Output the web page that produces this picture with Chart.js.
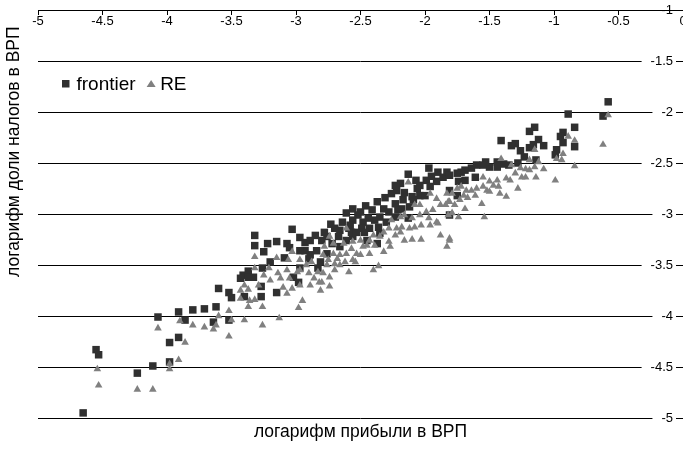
<!DOCTYPE html>
<html>
<head>
<meta charset="utf-8">
<title>frontier vs RE</title>
<script src="https://cdn.jsdelivr.net/npm/chart.js@4.4.0/dist/chart.umd.min.js"></script>
<style>
  body { margin: 0; background: #fff; }
  canvas { display: block; }
</style>
</head>
<body>
<canvas id="scatter" width="683" height="450"></canvas>
<script>
const FONT = "'Liberation Sans', Arial, sans-serif";

const xTitle = 'логарифм прибыли в ВРП';
const yTitle = 'логарифм доли налогов в ВРП';
const seriesNames = ['frontier', 'RE'];

const xTicks = [-5, -4.5, -4, -3.5, -3, -2.5, -2, -1.5, -1, -0.5, 0];
const yTicks = [-5, -4.5, -4, -3.5, -3, -2.5, -2, -1.5, -1];

// [log profit share, log tax share]
const frontier = [
  [-4.55,-4.33],[-4.53,-4.38],[-4.65,-4.95],[-4.23,-4.56],[-4.11,-4.49],[-3.98,-4.26],[-3.91,-4.21],[-3.98,-4.45],
  [-4.07,-4.01],[-3.91,-3.96],[-3.86,-4.04],
  [-3.32,-3.21],[-3.32,-3.31],[-3.25,-3.37],[-3.22,-3.29],[-3.15,-3.27],[-3.03,-3.15],[-3.07,-3.29],[-3.05,-3.33],
  [-2.97,-3.23],[-2.93,-3.28],[-2.93,-3.36],[-2.89,-3.40],[-2.84,-3.36],[-2.90,-3.44],[-2.83,-3.53],[-3.37,-3.56],
  [-3.41,-3.60],[-3.43,-3.63],[-3.33,-3.62],[-3.37,-3.62],[-3.60,-3.73],[-3.52,-3.77],[-3.50,-3.82],[-3.27,-3.71],
  [-3.27,-3.81],[-3.15,-3.77],[-3.40,-3.81],[-3.80,-3.94],[-3.71,-3.93],[-3.62,-3.91],[-3.64,-4.06],[-3.52,-4.04],
  [-2.97,-3.53],[-3.02,-3.62],[-2.98,-3.67],
  [-2.13,-2.61],[-1.97,-2.55],[-2.19,-2.70],[-2.07,-2.67],[-2.06,-2.75],[-1.99,-2.67],[-1.96,-2.73],[-1.91,-2.68],
  [-1.86,-2.64],[-2.26,-2.80],[-2.17,-2.86],[-2.23,-2.90],[-2.10,-2.83],[-2.04,-2.82],[-2.18,-2.95],[-2.12,-2.93],
  [-2.32,-2.95],[-2.28,-2.98],[-2.35,-3.03],[-2.39,-3.06],[-2.44,-3.04],[-2.48,-3.08],[-2.56,-2.95],[-2.61,-2.99],
  [-2.52,-3.01],[-2.56,-3.06],[-2.49,-3.14],[-2.43,-3.14],[-2.36,-3.13],[-2.30,-3.08],[-2.23,-3.03],[-2.73,-3.10],
  [-2.66,-3.16],[-2.59,-3.14],[-2.67,-3.22],[-2.76,-3.22],[-2.80,-3.26],[-2.72,-3.29],[-2.61,-3.26],[-2.56,-3.22],
  [-2.57,-3.18],[-2.53,-3.18],[-2.66,-3.32],[-2.76,-3.39],[-2.81,-3.47],[-2.37,-3.29],[-2.45,-3.26],[-2.35,-3.19],
  [-2.13,-3.04],
  [-2.78,-3.18],[-2.70,-3.14],[-2.64,-3.08],[-2.50,-2.98],[-2.46,-2.92],[-2.41,-2.96],[-2.37,-2.88],[-2.31,-2.84],
  [-2.22,-2.77],[-2.16,-2.79],[-2.04,-2.72],[-1.95,-2.63],[-1.90,-2.59],[-1.83,-2.59],[-2.23,-2.72],[-2.89,-3.26],
  [-2.85,-3.21],[-2.97,-3.36],[-3.09,-3.43],[-3.20,-3.47],[-3.26,-3.53],[-2.58,-3.11],[-2.47,-3.18],[-2.21,-2.96],
  [-2.09,-2.86],[-2.00,-2.82],
  [-0.58,-1.90],[-0.62,-2.04],[-0.89,-2.02],[-0.84,-2.15],[-0.93,-2.20],[-0.95,-2.24],[-0.93,-2.30],[-0.84,-2.34],
  [-1.15,-2.15],[-1.19,-2.19],[-1.12,-2.27],[-1.16,-2.32],[-1.19,-2.35],[-1.08,-2.33],[-1.41,-2.28],[-1.30,-2.31],
  [-1.33,-2.33],[-1.26,-2.38],[-1.23,-2.44],[-1.14,-2.47],[-0.98,-2.37],[-0.99,-2.42],[-1.28,-2.50],[-1.35,-2.52],
  [-1.39,-2.51],[-1.44,-2.49],[-1.44,-2.54],[-1.50,-2.54],[-1.53,-2.49],[-1.55,-2.52],[-1.60,-2.52],[-1.64,-2.55],
  [-1.69,-2.57],[-1.72,-2.59],[-1.75,-2.60],[-1.81,-2.62],[-1.69,-2.67],[-1.61,-2.64],[-1.74,-2.68],[-1.81,-2.77],
  [-1.75,-2.82],[-1.81,-3.01]
];

const re = [
  [-4.54,-4.52],[-4.53,-4.68],[-4.23,-4.72],[-4.11,-4.72],[-3.98,-4.47],[-3.98,-4.52],[-3.91,-4.43],[-3.86,-4.26],
  [-4.07,-4.12],[-3.90,-4.05],
  [-3.32,-3.42],[-3.15,-3.43],[-3.03,-3.37],[-3.06,-3.45],[-2.97,-3.45],[-3.21,-3.53],[-3.14,-3.58],[-3.25,-3.60],
  [-3.07,-3.55],[-3.05,-3.63],[-2.99,-3.57],[-2.92,-3.50],[-2.90,-3.58],[-2.86,-3.63],[-2.89,-3.70],[-2.82,-3.67],
  [-3.10,-3.72],[-3.07,-3.78],[-3.03,-3.73],[-2.95,-3.85],[-2.98,-3.92],[-3.13,-4.02],[-3.26,-4.09],[-3.40,-4.04],
  [-3.43,-3.75],[-3.40,-3.70],[-3.37,-3.74],[-3.36,-3.85],[-3.37,-3.91],[-3.32,-3.84],[-3.26,-3.91],
  [-3.52,-3.95],[-3.50,-4.04],[-3.60,-4.00],[-3.62,-4.09],[-3.64,-4.13],[-3.71,-4.11],[-3.80,-4.09],[-3.52,-4.20],
  [-3.43,-3.83],
  [-2.13,-2.69],[-1.96,-2.80],[-2.04,-2.91],[-1.91,-2.85],[-1.83,-2.80],[-1.88,-2.91],[-1.82,-2.88],[-1.82,-3.01],
  [-1.91,-3.08],[-1.97,-3.04],[-2.04,-3.01],[-2.08,-2.91],[-2.10,-3.04],[-2.16,-3.01],[-2.19,-3.03],[-2.26,-3.06],
  [-2.18,-3.13],[-2.12,-3.14],[-2.08,-3.13],[-2.03,-3.11],[-1.99,-2.98],[-2.22,-3.14],[-2.28,-3.14],[-2.32,-3.18],
  [-2.35,-3.22],[-2.28,-3.27],[-2.32,-3.37],[-2.27,-3.32],[-2.16,-3.26],[-2.10,-3.25],[-2.03,-3.25],[-1.88,-3.21],
  [-1.83,-3.32],[-1.81,-3.26],[-1.90,-3.09],[-2.40,-3.21],[-2.43,-3.26],[-2.45,-3.31],[-2.50,-3.26],[-2.56,-3.27],
  [-2.57,-3.34],[-2.53,-3.39],[-2.43,-3.39],[-2.48,-3.32],[-2.61,-3.39],[-2.66,-3.40],[-2.71,-3.39],[-2.74,-3.22],
  [-2.71,-3.29],[-2.78,-3.32],[-2.79,-3.40],[-2.75,-3.45],[-2.70,-3.49],[-2.62,-3.47],[-2.56,-3.45],[-2.59,-3.57],
  [-2.76,-3.50],[-2.79,-3.58],[-2.74,-3.62],[-2.80,-3.67],[-2.74,-3.71],[-2.40,-3.55],[-2.36,-3.51],[-2.61,-3.14],
  [-2.63,-3.29],[-2.81,-3.75],[-2.68,-3.44],
  [-2.97,-3.55],[-2.88,-3.47],[-2.83,-3.57],[-2.70,-3.55],[-2.66,-3.50],[-2.54,-3.47],[-2.50,-3.40],[-2.39,-3.31],
  [-2.23,-3.21],[-2.19,-3.18],[-1.96,-3.11],[-1.94,-2.96],[-1.84,-2.91],[-3.20,-3.65],[-3.12,-3.63],[-2.97,-3.70],
  [-3.29,-3.70],[-3.32,-3.53],[-1.67,-2.84],[-1.61,-2.82],[-1.47,-2.72],[-1.37,-2.65],[-1.19,-2.57],
  [-0.58,-2.03],[-0.62,-2.32],[-0.89,-2.24],[-0.84,-2.28],[-0.93,-2.41],[-0.94,-2.47],[-0.84,-2.53],[-0.98,-2.46],
  [-0.99,-2.67],[-1.15,-2.37],[-1.12,-2.49],[-1.15,-2.54],[-1.08,-2.56],[-1.14,-2.64],[-1.19,-2.47],[-1.22,-2.56],
  [-1.26,-2.55],[-1.30,-2.60],[-1.25,-2.64],[-1.22,-2.64],[-1.34,-2.67],[-1.28,-2.75],[-1.41,-2.46],[-1.33,-2.52],
  [-1.44,-2.67],[-1.50,-2.68],[-1.43,-2.73],[-1.55,-2.64],[-1.55,-2.73],[-1.52,-2.77],[-1.50,-2.78],[-1.42,-2.80],
  [-1.37,-2.83],[-1.60,-2.75],[-1.64,-2.77],[-1.68,-2.77],[-1.72,-2.73],[-1.70,-2.82],[-1.75,-2.75],[-1.79,-2.80],
  [-1.73,-2.86],[-1.77,-2.91],[-1.69,-2.95],[-1.81,-2.88],[-1.79,-2.99],[-1.74,-3.03],[-1.56,-2.90],[-1.54,-3.03],
  [-1.81,-3.24]
];

const toPoints = arr => arr.map(([x, y]) => ({ x, y }));
const tickLabel = v => String(v);

// legend sits inside the plot, top-left, like the spreadsheet original
const insideLegend = {
  id: 'insideLegend',
  afterDraw(chart) {
    const { ctx } = chart;
    ctx.save();
    ctx.font = '19px ' + FONT;
    ctx.textBaseline = 'alphabetic';
    let x = 62;
    const cy = 83.5;
    chart.data.datasets.forEach(ds => {
      ctx.fillStyle = ds.backgroundColor;
      if (ds.pointStyle === 'rect') {
        ctx.fillRect(x, cy - 3.5, 7.5, 7.5);
        x += 14.5;
      } else {
        ctx.beginPath();
        ctx.moveTo(x + 4.5, cy - 3.5);
        ctx.lineTo(x + 9, cy + 3.5);
        ctx.lineTo(x, cy + 3.5);
        ctx.closePath();
        ctx.fill();
        x += 13.5;
      }
      ctx.fillStyle = '#000';
      ctx.fillText(ds.label, x, 89.5);
      x += ctx.measureText(ds.label).width + 11;
    });
    ctx.restore();
  }
};

const axisTitles = {
  id: 'axisTitles',
  afterDraw(chart) {
    const { ctx, chartArea } = chart;
    ctx.save();
    ctx.fillStyle = '#000';
    ctx.font = '17.5px ' + FONT;
    ctx.textBaseline = 'alphabetic';
    ctx.textAlign = 'center';
    ctx.fillText(xTitle, (chartArea.left + chartArea.right) / 2, chart.height - 13);
    ctx.translate(18.5, 277);
    ctx.rotate(-Math.PI / 2);
    ctx.textAlign = 'left';
    ctx.fillText(yTitle, 0, 0);
    ctx.restore();
  }
};

new Chart(document.getElementById('scatter').getContext('2d'), {
  type: 'scatter',
  data: {
    datasets: [{
      label: seriesNames[0],
      data: toPoints(frontier),
      pointStyle: 'rect',
      pointRadius: 5.3,
      backgroundColor: '#303030',
      borderWidth: 0,
      order: 1
    }, {
      label: seriesNames[1],
      data: toPoints(re),
      pointStyle: 'triangle',
      pointRadius: 4.4,
      backgroundColor: '#808080',
      borderWidth: 0,
      order: 0
    }]
  },
  options: {
    responsive: false,
    animation: false,
    layout: { autoPadding: false, padding: { left: 38, right: 0, top: 10, bottom: 32 } },
    plugins: {
      legend: { display: false },
      tooltip: { enabled: false }
    },
    scales: {
      x: {
        type: 'linear',
        position: { y: -1 },
        min: -5,
        max: 0,
        afterBuildTicks: s => { s.ticks = xTicks.map(v => ({ value: v })); },
        afterFit: s => { s.paddingLeft = 0; s.paddingRight = 0; },
        grid: { display: true, drawOnChartArea: false, drawTicks: true, tickLength: 4, tickColor: '#000', tickWidth: 1 },
        border: { display: true, color: '#000', width: 1, z: 1 },
        ticks: {
          autoSkip: false,
          maxRotation: 0,
          padding: 0,
          color: '#000',
          font: { family: FONT, size: 13 },
          callback: tickLabel
        }
      },
      y: {
        type: 'linear',
        position: 'right',
        min: -5,
        max: -1,
        afterBuildTicks: s => { s.ticks = yTicks.map(v => ({ value: v })); },
        afterFit: s => { s.width = 0; },
        grid: { color: '#000', lineWidth: 1, drawTicks: false },
        border: { display: false },
        ticks: {
          // mirrored labels sit just inside the right edge of the plot
          mirror: true,
          padding: -10,
          color: '#000',
          font: { family: FONT, size: 13 },
          showLabelBackdrop: true,
          backdropColor: '#fff',
          backdropPadding: { left: 9, right: 3, top: 1, bottom: 1 },
          callback: tickLabel
        }
      }
    }
  },
  plugins: [insideLegend, axisTitles]
});
</script>
</body>
</html>
